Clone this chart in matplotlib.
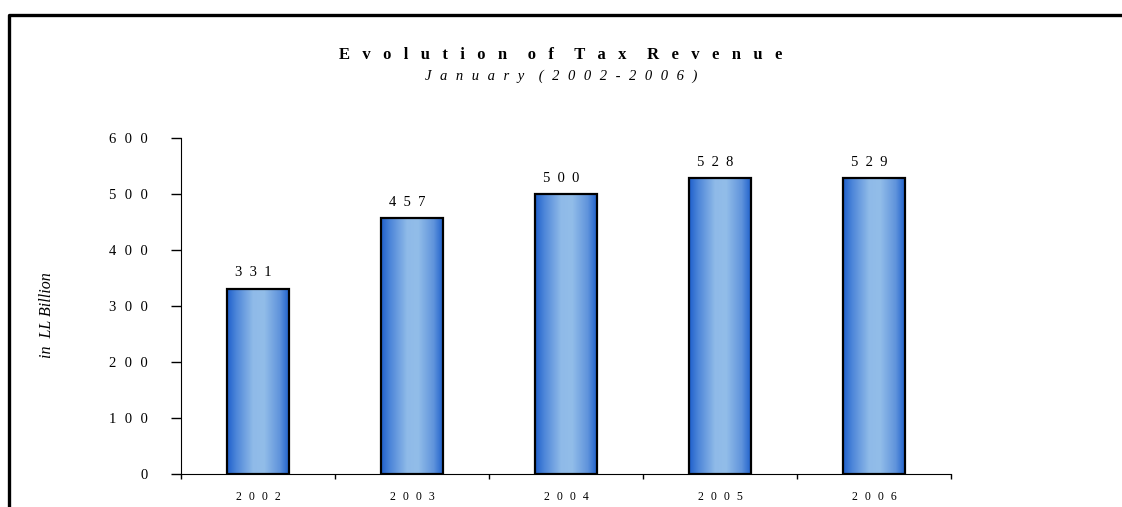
import matplotlib
matplotlib.use("Agg")
import matplotlib.pyplot as plt
import numpy as np
from matplotlib.colors import LinearSegmentedColormap
from matplotlib.lines import Line2D

years = ["2002", "2003", "2004", "2005", "2006"]
revenue = [331, 457, 500, 528, 529]
yticks = [0, 100, 200, 300, 400, 500, 600]

HAIR = "\u200a"


def spaced(s, gap="  "):
    # imitate the wide letter spacing of the original chart
    return gap.join(s)


plt.rcParams['font.family'] = ['Liberation Serif', 'DejaVu Serif']

fig = plt.figure(figsize=(11.22, 5.07), dpi=100)
ax = fig.add_axes([0.1613, 0.0651, 0.6863, 0.6627])

# gradient for the bars: dark edges, light centre
cmap = LinearSegmentedColormap.from_list("bar", [
    (0.0, "#1f60cc"), (0.15, "#4d86d9"), (0.42, "#8fbae8"),
    (0.6, "#92bde9"), (0.85, "#6094dc"), (1.0, "#2263cc")])
grad = np.linspace(0, 1, 256).reshape(1, -1)

x = np.arange(len(years))
width = 0.4
bars = ax.bar(x, revenue, width, facecolor="none", edgecolor="black", linewidth=1.6, zorder=3)
for b, v in zip(bars, revenue):
    x0 = b.get_x()
    ax.imshow(grad, extent=[x0, x0 + width, 0, v], aspect="auto", cmap=cmap, zorder=2)
    ax.text(b.get_x() + width / 2 - 0.03, v + 28, spaced(str(v)), ha="center", va="center", fontsize=10.5)

ax.set_xlim(-0.5, len(years) - 0.5)
ax.set_ylim(0, 600)
ax.set_yticks(yticks)
ax.set_yticklabels([spaced(str(t), "  " + HAIR) for t in yticks], fontsize=10.5)
ax.set_xticks(x)
ax.set_xticklabels([spaced(y, "  " + HAIR) for y in years], fontsize=8.5)
ax.set_xticks(np.arange(len(years) + 1) - 0.5, minor=True)
ax.tick_params(axis="x", which="major", length=0, pad=12)
ax.tick_params(axis="x", which="minor", length=3.5, width=1, direction="out")
ax.tick_params(axis="y", length=7.5, width=1, pad=16.5)
ax.spines["top"].set_visible(False)
ax.spines["right"].set_visible(False)

fig.text(0.042, 1 - 315 / 507, "in  LL Billion", rotation=90, ha="center", va="center",
         fontstyle="italic", fontsize=11.5)

title_words = ["Evolution", "of", "Tax", "Revenue"]
fig.text(0.5, 0.892, "     ".join(spaced(w, "   ") for w in title_words),
         ha="center", va="center", fontsize=12, fontweight="bold")
sub_words = ["January", "(2002-2006)"]
fig.text(0.5, 0.85, "    ".join(spaced(w, "  " + HAIR) for w in sub_words),
         ha="center", va="center", fontsize=10.5, fontstyle="italic")

# outer chart frame (top and left edges)
fig.add_artist(Line2D([0.008, 0.008, 1.0], [0.0, 0.970, 0.970], color="black", linewidth=2.4,
                      transform=fig.transFigure))

fig.savefig("out.png", dpi=100)
